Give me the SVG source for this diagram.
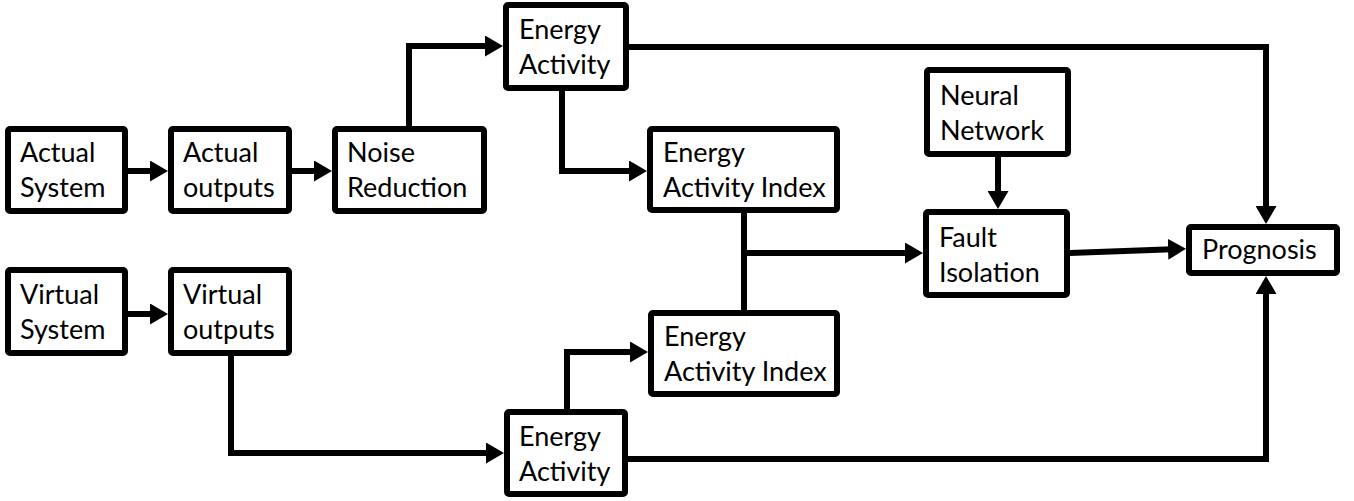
<svg xmlns="http://www.w3.org/2000/svg" width="1354" height="501" viewBox="0 0 1354 501">
<defs>
<style>
.box{fill:#fff;stroke:#000;stroke-width:6;}
.lbl{font-family:Lato,"Liberation Sans",sans-serif;font-size:27px;fill:#000;}
.wire{fill:none;stroke:#000;stroke-width:6;stroke-linejoin:miter;}
.arr{marker-end:url(#ah);}
</style>
<marker id="ah" markerUnits="userSpaceOnUse" markerWidth="18" markerHeight="21" refX="4" refY="10.5" orient="auto" viewBox="0 0 18 21">
<path d="M0,0 L18,10.5 L0,21 z" fill="#000"/>
</marker>
</defs>
<rect width="1354" height="501" fill="#fff"/>
<g id="connectors">
<path class="wire arr" d="M128,171 H154"/>
<path class="wire arr" d="M292,171 H318"/>
<path class="wire arr" d="M128,314 H154"/>
<path class="wire arr" d="M409,126 V46 H489"/>
<path class="wire arr" d="M562,91 V171 H633"/>
<path class="wire arr" d="M629,47 H1266 V210"/>
<path class="wire" d="M744,213 V310"/>
<path class="wire arr" d="M744,253 H909"/>
<path class="wire arr" d="M998,157 V195"/>
<path class="wire arr" d="M1070,253 L1172,249.2"/>
<path class="wire arr" d="M231,356 V453 H490"/>
<path class="wire arr" d="M567,409 V352 H634"/>
<path class="wire arr" d="M628,459 H1266 V290"/>
</g>
<g id="actual-system"><rect class="box" x="8" y="129" width="117" height="82" rx="2"/><text class="lbl" x="20" y="162">Actual</text><text class="lbl" x="20" y="197">System</text></g>
<g id="actual-outputs"><rect class="box" x="171" y="129" width="118" height="82" rx="2"/><text class="lbl" x="183" y="162">Actual</text><text class="lbl" x="183" y="197">outputs</text></g>
<g id="noise-reduction"><rect class="box" x="335" y="129" width="149" height="82" rx="2"/><text class="lbl" x="347" y="162">Noise</text><text class="lbl" x="347" y="197">Reduction</text></g>
<g id="virtual-system"><rect class="box" x="8" y="270" width="117" height="83" rx="2"/><text class="lbl" x="20" y="304">Virtual</text><text class="lbl" x="20" y="339">System</text></g>
<g id="virtual-outputs"><rect class="box" x="171" y="270" width="118" height="83" rx="2"/><text class="lbl" x="183" y="304">Virtual</text><text class="lbl" x="183" y="339">outputs</text></g>
<g id="energy-activity-top"><rect class="box" x="506" y="5" width="120" height="83" rx="2"/><text class="lbl" x="519" y="39">Energy</text><text class="lbl" x="519" y="74">Activity</text></g>
<g id="eai-top"><rect class="box" x="650" y="129" width="187" height="81" rx="2"/><text class="lbl" x="663" y="162">Energy</text><text class="lbl" x="663" y="197">Activity Index</text></g>
<g id="eai-bottom"><rect class="box" x="651" y="313" width="186" height="81" rx="2"/><text class="lbl" x="664" y="346">Energy</text><text class="lbl" x="664" y="381">Activity Index</text></g>
<g id="energy-activity-bottom"><rect class="box" x="507" y="412" width="118" height="82" rx="2"/><text class="lbl" x="519" y="446">Energy</text><text class="lbl" x="519" y="481">Activity</text></g>
<g id="neural-network"><rect class="box" x="927" y="70" width="141" height="84" rx="2"/><text class="lbl" x="940" y="105">Neural</text><text class="lbl" x="940" y="140">Network</text></g>
<g id="fault-isolation"><rect class="box" x="926" y="212" width="141" height="83" rx="2"/><text class="lbl" x="939" y="247">Fault</text><text class="lbl" x="939" y="282">Isolation</text></g>
<g id="prognosis"><rect class="box" x="1189" y="227" width="148" height="46" rx="2"/><text class="lbl" x="1202" y="259">Prognosis</text></g>
</svg>
